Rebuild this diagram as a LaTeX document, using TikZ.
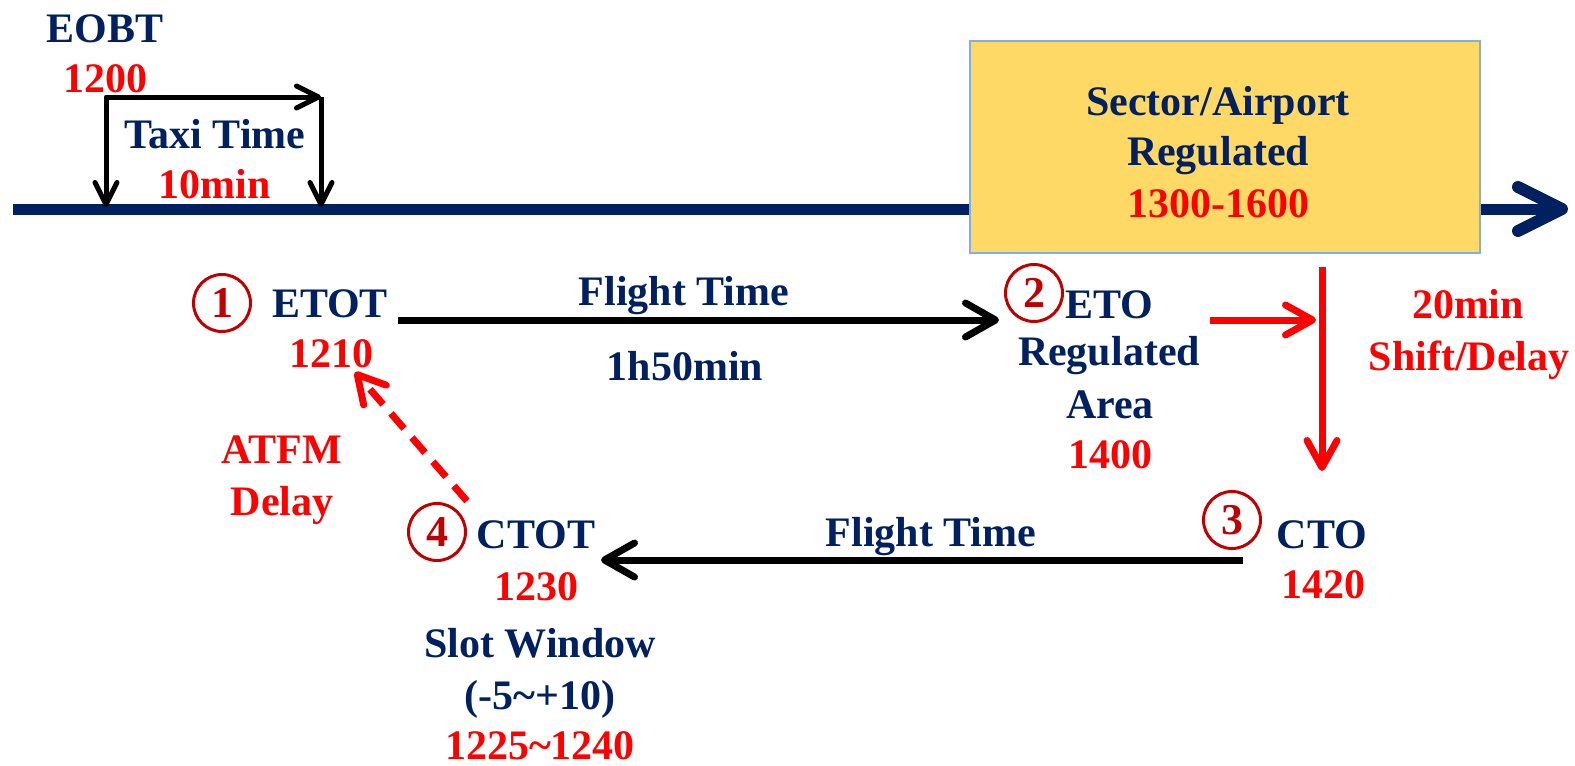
\documentclass[tikz,border=0pt]{standalone}
\usepackage{fontspec}
\setmainfont{Liberation Serif}
\usetikzlibrary{arrows.meta}
\definecolor{navy}{RGB}{0,32,96}
\definecolor{dred}{RGB}{192,0,0}
\definecolor{boxfill}{RGB}{255,217,102}
\definecolor{boxline}{RGB}{130,175,220}
\definecolor{pured}{RGB}{255,0,0}
\tikzset{
  lbl/.style={font=\fontsize{42}{50}\selectfont\bfseries, inner sep=0pt, anchor=base},
  navyt/.style={lbl, text=navy},
  redt/.style={lbl, text=pured},
  numc/.style={circle, draw=dred, line width=3pt, minimum size=57pt, inner sep=0pt, text=dred,
    font=\fontsize{44}{44}\selectfont\bfseries},
  blkarrow/.style={draw=black, line width=7pt, -{Straight Barb[length=30pt,width=34pt,round]}},
  taxiarrow/.style={draw=black, line width=5pt, line join=round},
  redarrow/.style={draw=pured, line width=7pt, -{Straight Barb[length=27pt,width=30pt,round]}},
  axisarrow/.style={draw=navy, line width=11pt, -{Straight Barb[length=44pt,width=44pt,round,line width=12pt]}},
}
\begin{document}
\begin{tikzpicture}[x=1pt,y=-1pt]
\useasboundingbox (0,0) rectangle (1575,766);
% axis
\coordinate (axs) at (13,209);
\coordinate (axe) at (1568,209);
\draw[axisarrow] (axs) -- (axe);
% regulated box
\node[draw=boxline, line width=1.5pt, fill=boxfill, minimum width=510pt, minimum height=212pt, inner sep=0pt, anchor=north west] (box) at (969,40) {};
\node[navyt] (sa) at (1218,115) {Sector/Airport};
\node[navyt] (sreg) at (1218,165) {Regulated};
\node[redt] (stime) at (1218,217) {1300-1600};
% EOBT and taxi
\node[navyt] (eobt) at (105,42) {EOBT};
\node[redt] (eobtt) at (105,92) {1200};
\coordinate (ta) at (106,207);
\coordinate (tb) at (106,97);
\coordinate (tc) at (321,97);
\coordinate (td) at (321,207);
\draw[taxiarrow, {Straight Barb[length=22pt,width=22pt,round]}-{Straight Barb[length=22pt,width=22pt,round]}] (ta) -- (tb) -- (tc);
\draw[taxiarrow, -{Straight Barb[length=22pt,width=22pt,round]}] (tc) -- (td);
\node[navyt] (taxi) at (215,148) {Taxi Time};
\node[redt] (taxit) at (215,198) {10min};
% step 1
\node[numc] (c1) at (222,303) {1};
\node[navyt] (etot) at (330,317) {ETOT};
\node[redt] (etott) at (331,367) {1210};
\coordinate (f1s) at (398,320);
\coordinate (f1e) at (999,320);
\draw[blkarrow] (f1s) -- (f1e);
\node[navyt] (ft1) at (684,305) {Flight Time};
\node[navyt] (ft1t) at (685,380) {1h50min};
% step 2
\node[numc] (c2) at (1034,293) {2};
\node[navyt] (eto) at (1109,318) {ETO};
\node[navyt] (etoreg) at (1109,365) {Regulated};
\node[navyt] (etoarea) at (1110,418) {Area};
\node[redt] (etot2) at (1110,468) {1400};
% shift
\coordinate (rhs) at (1210,320);
\coordinate (rhe) at (1316,320);
\draw[redarrow] (rhs) -- (rhe);
\coordinate (rvs) at (1322,267);
\coordinate (rve) at (1322,471);
\draw[redarrow] (rvs) -- (rve);
\node[redt] (shiftm) at (1468,318) {20min};
\node[redt] (shiftd) at (1469,370) {Shift/Delay};
% step 3
\node[numc] (c3) at (1232,520) {3};
\node[navyt] (cto) at (1322,548) {CTO};
\node[redt] (ctot3) at (1323,598) {1420};
\coordinate (f2s) at (1243,560);
\coordinate (f2e) at (601,560);
\draw[blkarrow] (f2s) -- (f2e);
\node[navyt] (ft2) at (931,546) {Flight Time};
% step 4
\node[numc] (c4) at (437,532) {4};
\node[navyt] (ctot) at (536,548) {CTOT};
\node[redt] (ctott) at (536,600) {1230};
\node[navyt] (slot) at (540,657) {Slot Window};
\node[navyt] (slotr) at (540,709) {(-5\char`\~+10)};
\node[redt] (slott) at (540,759) {1225\char`\~1240};
% ATFM delay
\coordinate (ds) at (467,501);
\coordinate (de) at (355,372);
\draw[redarrow, dash pattern=on 20pt off 12pt] (ds) -- (de);
\node[redt] (atfm) at (282,463) {ATFM};
\node[redt] (atfmd) at (282,515) {Delay};
\end{tikzpicture}
\end{document}
